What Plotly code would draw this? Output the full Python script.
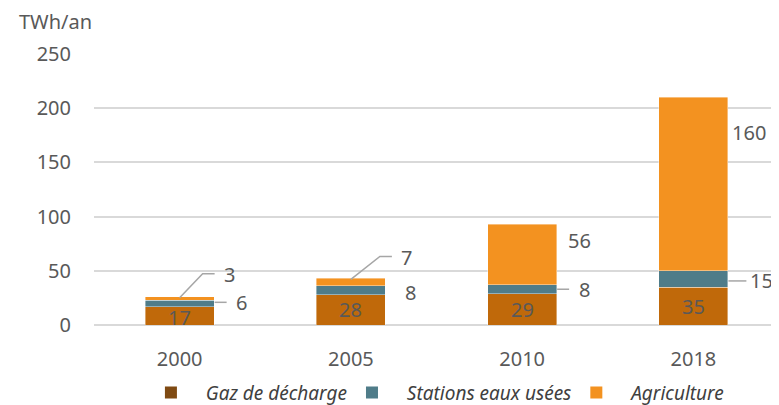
import plotly.graph_objects as go

years = ["2000", "2005", "2010", "2018"]
gaz = [17, 28, 29, 35]
stations = [6, 8, 8, 15]
agri = [3, 7, 56, 160]
y_ticks = [0, 50, 100, 150, 200, 250]
series_names = ["Gaz de décharge", "Stations eaux usées", "Agriculture"]

C_GAZ = "#C0690A"
C_GAZ_LEG = "#7F4A12"
C_ST = "#4F7C89"
C_AG = "#F39220"
TXT = "#595959"
LINE = "#A6A6A6"
FONT = "Noto Sans"
NB = "\u00a0"

fig = go.Figure()
for vals, col in [(gaz, C_GAZ), (stations, C_ST), (agri, C_AG)]:
    fig.add_trace(go.Bar(x=years, y=vals, marker=dict(color=col, line=dict(width=0.8, color="rgba(255,255,255,0.5)")),
                         showlegend=False, hoverinfo="skip"))
for name, col in zip(series_names, [C_GAZ_LEG, C_ST, C_AG]):
    fig.add_trace(go.Scatter(x=[years[0]], y=[None], mode="markers", name="<i>%s%s</i>" % (NB * 3, name),
                             marker=dict(symbol="square", size=12, color=col), hoverinfo="skip"))

ann = []
shapes = []
# Gaz labels (centered)
for i, y in enumerate(years):
    ann.append(dict(x=i, y=gaz[i] / 2, text=str(gaz[i]), showarrow=False,
                    yshift=-2 if i == 0 else 0, font=dict(size=20, color=TXT, family=FONT)))
# Stations labels: (xshift, yshift, leader line?)
st_pos = [(62, 1, True), (60, -2, False), (62, 0, True), (68, -2, True)]
for i, y in enumerate(years):
    mid = gaz[i] + stations[i] / 2
    xs, ys, ln = st_pos[i]
    ann.append(dict(x=i, y=mid, text=str(stations[i]), showarrow=False, xshift=xs, yshift=ys,
                    font=dict(size=20, color=TXT, family=FONT)))
    if ln:
        shapes.append(dict(type="path", xref="x", yref="y", xsizemode="pixel", ysizemode="pixel",
                           xanchor=i, yanchor=mid,
                           path="M 35,%d L %d,%d" % (ys, xs - 15, ys),
                           line=dict(color=LINE, width=1.5)))
# Agriculture labels
ag_pos = [(50, 22, True), (56, 21, True), (57, -16, False), (56, -35, False)]
for i, y in enumerate(years):
    top = gaz[i] + stations[i] + agri[i]
    xs, ys, ln = ag_pos[i]
    ann.append(dict(x=i, y=top, text=str(agri[i]), showarrow=False, xshift=xs, yshift=ys,
                    font=dict(size=20, color=TXT, family=FONT)))
    if ln:
        shapes.append(dict(type="path", xref="x", yref="y", xsizemode="pixel", ysizemode="pixel",
                           xanchor=i, yanchor=top,
                           path="M 0,-1 L %d,%d L %d,%d" % (xs - 27, ys + 1, xs - 15, ys + 1),
                           line=dict(color=LINE, width=1.5)))

ann.append(dict(xref="paper", yref="paper", x=-0.113, y=1.12, xanchor="left", yanchor="middle",
                text="TWh/an", showarrow=False, font=dict(size=20, color=TXT, family=FONT)))

fig.update_layout(
    width=771, height=397,
    margin=dict(l=86, r=0, t=46, b=80, autoexpand=False),
    paper_bgcolor="white", plot_bgcolor="white",
    barmode="stack", bargap=0.597,
    font=dict(family=FONT, color=TXT, size=20),
    annotations=ann, shapes=shapes,
    showlegend=True,
    legend=dict(orientation="h", x=0.505, xanchor="center", y=-0.25, yanchor="middle", traceorder="normal",
                font=dict(size=19, color="#404040", family=FONT), itemclick=False),
    xaxis=dict(type="category", categoryorder="array", categoryarray=years, range=[-0.5, 3.5],
               showgrid=False, showline=False, ticks="",
               tickfont=dict(size=20, color=TXT), ticklabelstandoff=20),
    yaxis=dict(range=[0, 250], tickvals=y_ticks, showgrid=True, gridcolor="#D9D9D9", gridwidth=1.5,
               zeroline=True, zerolinecolor="#D9D9D9", zerolinewidth=1.5,
               tickfont=dict(size=20, color=TXT), ticklabelstandoff=22),
)

fig.write_html("out.html")
